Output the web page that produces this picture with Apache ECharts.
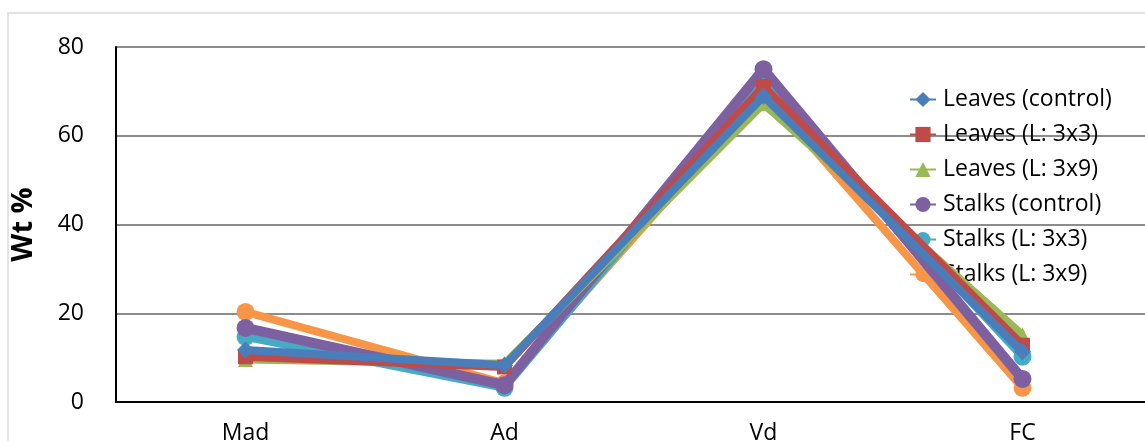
<!DOCTYPE html>
<html>
<head>
<meta charset="utf-8">
<script src="https://cdn.jsdelivr.net/npm/echarts@6/dist/echarts.min.js"></script>
<style>
  html, body { margin: 0; padding: 0; background: #ffffff; }
  #chart { width: 1145px; height: 441px; }
</style>
</head>
<body>
<div id="chart"></div>
<script>
// Proximate analysis of leaves and stalks (wt %)
const categories = ['Mad', 'Ad', 'Vd', 'FC'];
const yTicks = [0, 20, 40, 60, 80];

const leavesControl = [11.7, 8.3, 68.9, 11.3];
const leaves3x3     = [10.2, 7.9, 71.1, 12.8];
const leaves3x9     = [9.6, 8.6, 67.2, 15.1];
const stalksControl = [16.7, 3.8, 75.0, 5.2];
const stalks3x3     = [14.7, 3.2, 72.6, 10.2];
const stalks3x9     = [20.3, 4.2, 70.0, 3.2];

const seriesNames = ['Leaves (control)', 'Leaves (L: 3x3)', 'Leaves (L: 3x9)',
                     'Stalks (control)', 'Stalks (L: 3x3)', 'Stalks (L: 3x9)'];
const seriesData = [leavesControl, leaves3x3, leaves3x9, stalksControl, stalks3x3, stalks3x9];
const colors = ['#4A7EBB', '#BE4B48', '#98B954', '#7D60A0', '#46AAC5', '#F79646'];
const symbols = ['diamond', 'rect', 'triangle', 'circle', 'circle', 'circle'];
const symbolSizes = [17, 15, 15, 18, 18, 18];

const FONT = '"Open Sans", "Noto Sans", sans-serif';

const chart = echarts.init(document.getElementById('chart'), null, { renderer: 'canvas' });

const series = seriesNames.map((name, i) => ({
  name: name,
  type: 'line',
  data: seriesData[i],
  symbol: symbols[i],
  symbolSize: symbolSizes[i],
  showSymbol: true,
  z: 20 - i,
  lineStyle: { color: colors[i], width: i === 3 ? 10 : 8 },
  itemStyle: { color: colors[i], borderWidth: 0 },
  emphasis: { disabled: true },
  animation: false
}));

chart.setOption({
  animation: false,
  color: colors,
  textStyle: { fontFamily: FONT },
  grid: {
    left: 116, top: 47, width: 1036, height: 355,
    containLabel: false,
    outerBoundsMode: 'none'
  },
  graphic: [
    {
      type: 'polyline',
      shape: { points: [[8, 441], [8, 13], [1145, 13]] },
      style: { stroke: '#d9d9d9', lineWidth: 1.5, fill: null },
      silent: true
    }
  ],
  legend: {
    orient: 'vertical',
    left: 904,
    top: 79,
    itemWidth: 26,
    itemHeight: 19,
    itemGap: 4,
    data: seriesNames,
    lineStyle: { width: 2 },
    textStyle: { fontSize: 23, color: '#000', fontFamily: FONT, lineHeight: 31, padding: [0, 0, 0, 2] },
    selectedMode: false
  },
  xAxis: {
    type: 'category',
    data: categories,
    boundaryGap: true,
    axisLine: { show: true, lineStyle: { color: '#000', width: 2 } },
    axisTick: { show: false },
    axisLabel: { fontSize: 23, color: '#000', margin: 20, fontFamily: FONT },
    splitLine: { show: false }
  },
  yAxis: {
    type: 'value',
    min: yTicks[0],
    max: yTicks[yTicks.length - 1],
    interval: 20,
    name: 'Wt %',
    nameLocation: 'middle',
    nameGap: 78,
    nameRotate: 90,
    nameTextStyle: { fontSize: 29, fontWeight: 'bold', color: '#000', fontFamily: FONT },
    axisLine: { show: true, lineStyle: { color: '#000', width: 2 } },
    axisTick: { show: false },
    axisLabel: { fontSize: 23, color: '#000', margin: 32, fontFamily: FONT },
    splitLine: { show: true, lineStyle: { color: '#8c8c8c', width: 2 } }
  },
  series: series
});
</script>
</body>
</html>
